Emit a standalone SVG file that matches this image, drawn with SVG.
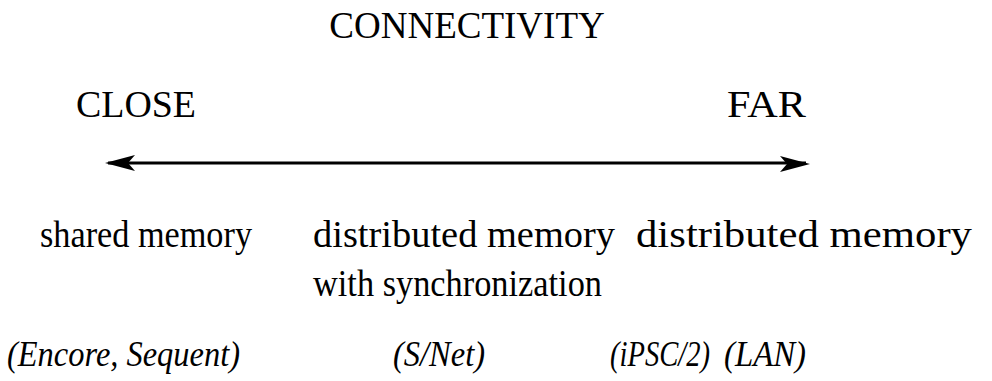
<svg xmlns="http://www.w3.org/2000/svg" width="992" height="381" viewBox="0 0 992 381">
<style>
text{font-family:"Liberation Serif","Times New Roman",serif;fill:#000;font-size:37px}
.m{font-size:38px}
.it{font-style:italic;font-size:35px}
</style>
<rect width="992" height="381" fill="#fff"/>
<g id="title"><text x="467" y="38" text-anchor="middle">CONNECTIVITY</text></g>
<g id="close"><text x="76" y="117" textLength="120" lengthAdjust="spacingAndGlyphs">CLOSE</text></g>
<g id="far"><text x="727" y="117" textLength="79" lengthAdjust="spacingAndGlyphs">FAR</text></g>
<g id="connectors">
<path d="M108,163 H806" stroke="#000" stroke-width="3" fill="none"/>
<path d="M105,163 L135,155 L128,163 L135,171 Z" fill="#000"/>
<path d="M810,164 L780,156 L787,164 L780,172 Z" fill="#000"/>
</g>
<g id="shared"><text class="m" x="40" y="247" textLength="212" lengthAdjust="spacingAndGlyphs">shared memory</text></g>
<g id="distsync"><text class="m" x="313" y="247" textLength="302" lengthAdjust="spacingAndGlyphs">distributed memory</text><text class="m" x="313" y="296" textLength="289" lengthAdjust="spacingAndGlyphs">with synchronization</text></g>
<g id="dist"><text class="m" x="636" y="247" textLength="336" lengthAdjust="spacingAndGlyphs">distributed memory</text></g>
<g id="examples">
<text class="it" x="7" y="366" textLength="233" lengthAdjust="spacingAndGlyphs">(Encore, Sequent)</text>
<text class="it" x="393" y="366" textLength="92" lengthAdjust="spacingAndGlyphs">(S/Net)</text>
<text class="it" x="610" y="366" textLength="100" lengthAdjust="spacingAndGlyphs">(iPSC/2)</text>
<text class="it" x="724" y="366" textLength="82" lengthAdjust="spacingAndGlyphs">(LAN)</text>
</g>
</svg>
